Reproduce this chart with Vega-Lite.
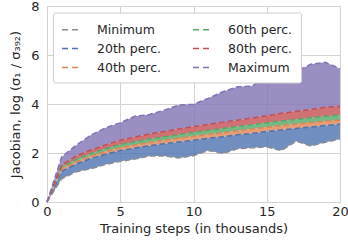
{
  "$schema": "https://vega.github.io/schema/vega-lite/v6.json",
  "width": 293,
  "height": 196,
  "autosize": {"type": "none"},
  "padding": {"left": 47, "top": 6, "right": 8, "bottom": 46},
  "background": "white",
  "config": {
    "font": "DejaVu Sans",
    "view": {"stroke": "#cccccc", "strokeWidth": 1},
    "axis": {
      "grid": true,
      "gridColor": "#d4d4d4",
      "gridWidth": 1,
      "domain": false,
      "ticks": false,
      "labelFlush": false,
      "labelFontSize": 13,
      "labelColor": "#262626",
      "titleFontSize": 13,
      "titleColor": "#262626",
      "titleFontWeight": "normal"
    }
  },
  "data": {
    "values": [
      {"step": 0, "min": 0, "p20": 0, "p40": 0, "p60": 0, "p80": 0, "max": 0},
      {"step": 1, "min": 0.95, "p20": 1.25, "p40": 1.35, "p60": 1.42, "p80": 1.5, "max": 1.84},
      {"step": 2, "min": 1.23, "p20": 1.55, "p40": 1.65, "p60": 1.75, "p80": 1.88, "max": 2.32},
      {"step": 3, "min": 1.36, "p20": 1.78, "p40": 1.88, "p60": 1.98, "p80": 2.12, "max": 2.73},
      {"step": 4, "min": 1.53, "p20": 1.95, "p40": 2.06, "p60": 2.17, "p80": 2.33, "max": 3.03},
      {"step": 5, "min": 1.66, "p20": 2.1, "p40": 2.22, "p60": 2.35, "p80": 2.52, "max": 3.23},
      {"step": 6, "min": 1.75, "p20": 2.2, "p40": 2.33, "p60": 2.46, "p80": 2.65, "max": 3.5},
      {"step": 7, "min": 1.88, "p20": 2.3, "p40": 2.43, "p60": 2.57, "p80": 2.78, "max": 3.57},
      {"step": 8, "min": 1.88, "p20": 2.38, "p40": 2.52, "p60": 2.66, "p80": 2.88, "max": 3.75},
      {"step": 9, "min": 1.8, "p20": 2.45, "p40": 2.6, "p60": 2.75, "p80": 2.98, "max": 3.96},
      {"step": 10, "min": 1.89, "p20": 2.52, "p40": 2.68, "p60": 2.84, "p80": 3.08, "max": 3.99},
      {"step": 11, "min": 2.1, "p20": 2.6, "p40": 2.76, "p60": 2.92, "p80": 3.17, "max": 4.23},
      {"step": 12, "min": 1.98, "p20": 2.66, "p40": 2.83, "p60": 3.0, "p80": 3.26, "max": 4.5},
      {"step": 13, "min": 2.17, "p20": 2.74, "p40": 2.91, "p60": 3.08, "p80": 3.34, "max": 4.7},
      {"step": 14, "min": 2.21, "p20": 2.8, "p40": 2.98, "p60": 3.15, "p80": 3.43, "max": 4.73},
      {"step": 15, "min": 2.25, "p20": 2.88, "p40": 3.05, "p60": 3.23, "p80": 3.52, "max": 5.16},
      {"step": 16, "min": 2.1, "p20": 2.94, "p40": 3.12, "p60": 3.31, "p80": 3.62, "max": 5.14},
      {"step": 17, "min": 2.48, "p20": 3.0, "p40": 3.18, "p60": 3.37, "p80": 3.7, "max": 5.32},
      {"step": 18, "min": 2.29, "p20": 3.06, "p40": 3.24, "p60": 3.44, "p80": 3.78, "max": 5.62},
      {"step": 19, "min": 2.44, "p20": 3.12, "p40": 3.3, "p60": 3.5, "p80": 3.87, "max": 5.7},
      {"step": 20, "min": 2.57, "p20": 3.17, "p40": 3.34, "p60": 3.55, "p80": 3.9, "max": 5.44}
    ]
  },
  "encoding": {
    "x": {
      "field": "step",
      "type": "quantitative",
      "scale": {"domain": [0, 20], "nice": false},
      "axis": {"values": [0, 5, 10, 15, 20], "title": "Training steps (in thousands)", "labelPadding": 3, "titlePadding": 4}
    }
  },
  "layer": [
    {
      "mark": {"type": "area", "color": "#4c72b0", "opacity": 0.8},
      "encoding": {
        "y": {
          "field": "min",
          "type": "quantitative",
          "scale": {"domain": [0, 8], "nice": false},
          "axis": {"values": [0, 1, 2, 3, 4, 5, 6, 7, 8], "title": "Jacobian, log (σ₁ / σ₃₉₂)", "labelPadding": 8, "titlePadding": 8}
        },
        "y2": {"field": "p20"}
      }
    },
    {
      "mark": {"type": "area", "color": "#dd8452", "opacity": 0.8},
      "encoding": {"y": {"field": "p20", "type": "quantitative"}, "y2": {"field": "p40"}}
    },
    {
      "mark": {"type": "area", "color": "#55a868", "opacity": 0.8},
      "encoding": {"y": {"field": "p40", "type": "quantitative"}, "y2": {"field": "p60"}}
    },
    {
      "mark": {"type": "area", "color": "#c44e52", "opacity": 0.8},
      "encoding": {"y": {"field": "p60", "type": "quantitative"}, "y2": {"field": "p80"}}
    },
    {
      "mark": {"type": "area", "color": "#8172b3", "opacity": 0.8},
      "encoding": {"y": {"field": "p80", "type": "quantitative"}, "y2": {"field": "max"}}
    },
    {
      "transform": [{"fold": ["min", "p20", "p40", "p60", "p80", "max"], "as": ["key", "value"]}],
      "mark": {"type": "line", "strokeDash": [5.5, 3], "strokeWidth": 1.5},
      "encoding": {
        "y": {"field": "value", "type": "quantitative"},
        "color": {
          "field": "key",
          "type": "nominal",
          "scale": {
            "domain": ["min", "p20", "p40", "p60", "p80", "max"],
            "range": ["#8c8c8c", "#4c72b0", "#dd8452", "#55a868", "#c44e52", "#8172b3"]
          },
          "legend": {
            "title": null,
            "orient": "none",
            "legendX": 6,
            "legendY": 6.5,
            "columns": 2,
            "symbolType": "stroke",
            "symbolSize": 256,
            "symbolStrokeWidth": 1.5,
            "symbolDash": [6, 4],
            "labelFont": "DejaVu Sans",
            "labelFontSize": 12.5,
            "labelColor": "#262626",
            "labelOffset": 18,
            "columnPadding": 28,
            "rowPadding": 3,
            "padding": 8,
            "fillColor": "white",
            "strokeColor": "#cccccc",
            "cornerRadius": 2,
            "labelExpr": "datum.label == 'min' ? 'Minimum' : datum.label == 'p20' ? '20th perc.' : datum.label == 'p40' ? '40th perc.' : datum.label == 'p60' ? '60th perc.' : datum.label == 'p80' ? '80th perc.' : 'Maximum'"
          }
        }
      }
    }
  ]
}
